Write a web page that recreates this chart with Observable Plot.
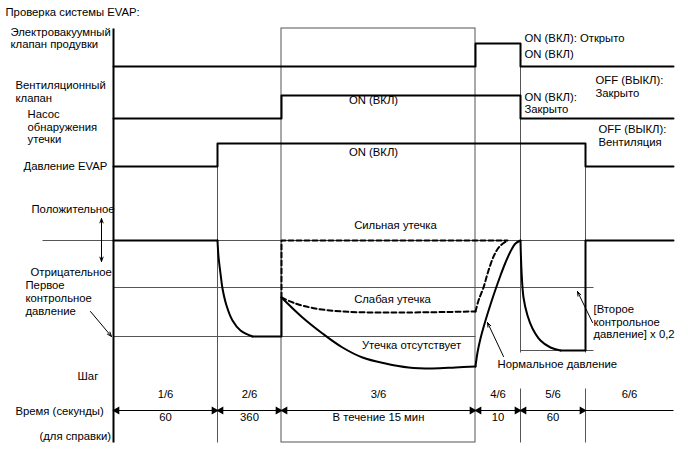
<!DOCTYPE html>
<html><head><meta charset="utf-8">
<script src="https://cdn.jsdelivr.net/npm/d3@7"></script>
<script src="https://cdn.jsdelivr.net/npm/@observablehq/plot@0.6"></script>
<style>html,body{margin:0;padding:0;background:#fff}</style>
</head><body><div id="chart"></div>
<script>
// ---- DATA (schematic diagram units) ----
const stepBounds = [113, 217, 281, 475, 520, 585, 673];
const stepLabels = ["1/6", "2/6", "3/6", "4/6", "5/6", "6/6"];
const stepTimes = ["60", "360", "В течение 15 мин", "10", "60", ""];
// signal states per step (1 = ON)
const purgeState = [0, 0, 0, 1, 0, 0];
const ventState  = [0, 0, 1, 1, 0, 0];
const pumpState  = [0, 1, 1, 1, 1, 0];
// EVAP pressure traces
const pressFlatA   = [[113, 240], [217, 240]];
const pressDrop2   = [[217, 240], [218, 256], [220, 273], [222, 288], [226, 305], [232, 320], [240, 330], [252, 336]];
const pressFlatB   = [[252, 336], [281, 336], [281, 297]];
const noLeak       = [[281, 297], [302, 317], [322, 333], [342, 347], [362, 357], [385, 363], [408, 367], [432, 368], [455, 367], [475, 366]];
const normalRise   = [[475, 366], [477, 352], [480, 338], [485, 320], [490, 304], [495, 289], [500, 275], [505, 262], [510, 251], [515, 243], [520, 240]];
const smallLeak    = [[281, 297], [295, 303], [315, 308], [342, 311], [375, 312], [408, 312], [475, 311]];
const smallRise    = [[475, 311], [478, 300], [483, 287], [488, 270], [494, 254], [500, 245], [507, 240]];
const largeLeak    = [[281, 297], [281, 240], [507, 240]];
const step5Drop    = [[520, 240], [521, 270], [523, 297], [527, 315], [532, 328], [540, 340], [550, 347], [560, 350]];
const step5Flat    = [[560, 350], [585, 350], [585, 240], [673, 240]];

// labels
const leftTexts = ["Проверка системы EVAP:", "Электровакуумный\nклапан продувки", "Вентиляционный\nклапан",
  "Насос\nобнаружения\nутечки", "Давление EVAP", "Положительное", "Отрицательное",
  "Первое\nконтрольное\nдавление", "Шаг", "Время (секунды)", "(для справки)",
  "ON (ВКЛ): Открыто", "ON (ВКЛ)", "OFF (ВЫКЛ):\nЗакрыто", "ON (ВКЛ):\nЗакрыто",
  "OFF (ВЫКЛ):\nВентиляция", "[Второе\nконтрольное\nдавление] x 0,2", "Нормальное давление"];
const centerTexts = ["ON (ВКЛ)", "ON (ВКЛ)", "Сильная утечка", "Слабая утечка", "Утечка отсутствует"];

// ---- LAYOUT ----
const rows = {purge: [66, 43], vent: [118, 95], pump: [166, 143]};
const leftPos = [[5, 11], [10, 37.5], [15, 91], [27, 126], [23, 165], [31, 208], [30, 271],
  [25, 297.5], [77, 375], [15, 410], [39, 435],
  [524, 37], [524, 53], [595, 86], [524, 102.5], [598, 135], [593, 321], [497, 363]];
const centerPos = [[373, 100], [373, 152], [395, 225], [392, 299], [411, 345]];
const gridH = [[240, 42, 673], [287, 113, 593], [336, 113, 475], [350, 520, 593]];
const gridV = [[217, 143, 442], [520, 43, 352], [520, 388, 442], [585, 143, 352], [585, 388, 442]];
const timeY = 410, stepY = 394, valY = 417;
const FS = 11.3;

function stepLine(states, lv) {
  const pts = [];
  states.forEach((s, i) => {
    const y = s ? lv[1] : lv[0];
    pts.push([stepBounds[i], y], [stepBounds[i + 1], y]);
  });
  return pts;
}
const P = a => a.map(([x, y]) => ({x, y}));
const grid = "#555";
const thick = {x: "x", y: "y", stroke: "#000", strokeWidth: 2};

const mids = stepLabels.map((_, i) => (stepBounds[i] + stepBounds[i + 1]) / 2);
const timeSegs = stepLabels.map((s, i) => ({x1: stepBounds[i], x2: stepBounds[i + 1], arrows: i < 5}));
const heads = [];
timeSegs.forEach(s => { if (s.arrows) { heads.push({x: s.x1 + 3.5, r: -90}, {x: s.x2 - 3.5, r: 90}); } });

const plot = Plot.plot({
  width: 688, height: 463, margin: 0,
  x: {domain: [0, 688], range: [0, 688], axis: null},
  y: {domain: [0, 463], range: [0, 463], axis: null},
  style: {fontFamily: "Arial, 'Liberation Sans', sans-serif", fontSize: "11px", background: "#fff", color: "#000"},
  marks: [
    // box for step 3/6
    Plot.rect([{x1: 281, x2: 475, y1: 28, y2: 442}], {x1: "x1", x2: "x2", y1: "y1", y2: "y2", fill: "none", stroke: grid, strokeWidth: 1}),
    // gridlines
    Plot.link(gridH, {x1: d => d[1], x2: d => d[2], y1: d => d[0], y2: d => d[0], stroke: grid, strokeWidth: 1}),
    Plot.link(gridV, {x1: d => d[0], x2: d => d[0], y1: d => d[1], y2: d => d[2], stroke: grid, strokeWidth: 1}),
    // left axis
    Plot.link([{x: 113, y1: 28, y2: 442}], {x1: "x", x2: "x", y1: "y1", y2: "y2", stroke: "#000", strokeWidth: 2}),
    // signals
    Plot.line(P(stepLine(purgeState, rows.purge)), thick),
    Plot.line(P(stepLine(ventState, rows.vent)), thick),
    Plot.line(P(stepLine(pumpState, rows.pump)), thick),
    // pressure
    Plot.line(P(pressFlatA), thick),
    Plot.line(P(pressDrop2), {...thick, curve: "catmull-rom"}),
    Plot.line(P(pressFlatB), thick),
    Plot.line(P(noLeak), {...thick, curve: "catmull-rom"}),
    Plot.line(P(normalRise), {...thick, curve: "catmull-rom"}),
    Plot.line(P(smallLeak), {...thick, curve: "catmull-rom", strokeDasharray: "5,3"}),
    Plot.line(P(smallRise), {...thick, curve: "catmull-rom", strokeDasharray: "5,3"}),
    Plot.line(P(largeLeak), {...thick, strokeDasharray: "5,3"}),
    Plot.line(P(step5Drop), {...thick, curve: "catmull-rom"}),
    Plot.line(P(step5Flat), thick),
    // time row
    Plot.link(timeSegs, {x1: "x1", x2: "x2", y1: () => timeY, y2: () => timeY, stroke: "#000", strokeWidth: 1}),
    Plot.dot(heads, {x: "x", y: () => timeY, symbol: "triangle", r: 3, rotate: "r", fill: "#000", stroke: "none"}),
    Plot.text(stepLabels, {x: (d, i) => mids[i], y: () => stepY, text: d => d, fontSize: FS}),
    Plot.text(stepTimes, {x: (d, i) => mids[i], y: () => valY, text: d => d, fontSize: FS}),
    // annotation arrows
    Plot.arrow([
      {x1: 101, y1: 239, x2: 101, y2: 218},
      {x1: 101, y1: 239, x2: 101, y2: 261},
      {x1: 90, y1: 311, x2: 111, y2: 336},
      {x1: 503, y1: 356, x2: 487, y2: 322},
      {x1: 592, y1: 322, x2: 577, y2: 291}
    ], {x1: "x1", y1: "y1", x2: "x2", y2: "y2", stroke: "#000", strokeWidth: 1, headLength: 7, headAngle: 40}),
    // texts
    Plot.text(leftTexts, {x: (d, i) => leftPos[i][0], y: (d, i) => leftPos[i][1], text: d => d, textAnchor: "start", fontSize: FS, lineHeight: 1.13, fill: "#000"}),
    Plot.text(centerTexts, {x: (d, i) => centerPos[i][0], y: (d, i) => centerPos[i][1], text: d => d, fontSize: FS, fill: "#000"})
  ]
});
document.getElementById("chart").appendChild(plot);
</script></body></html>
